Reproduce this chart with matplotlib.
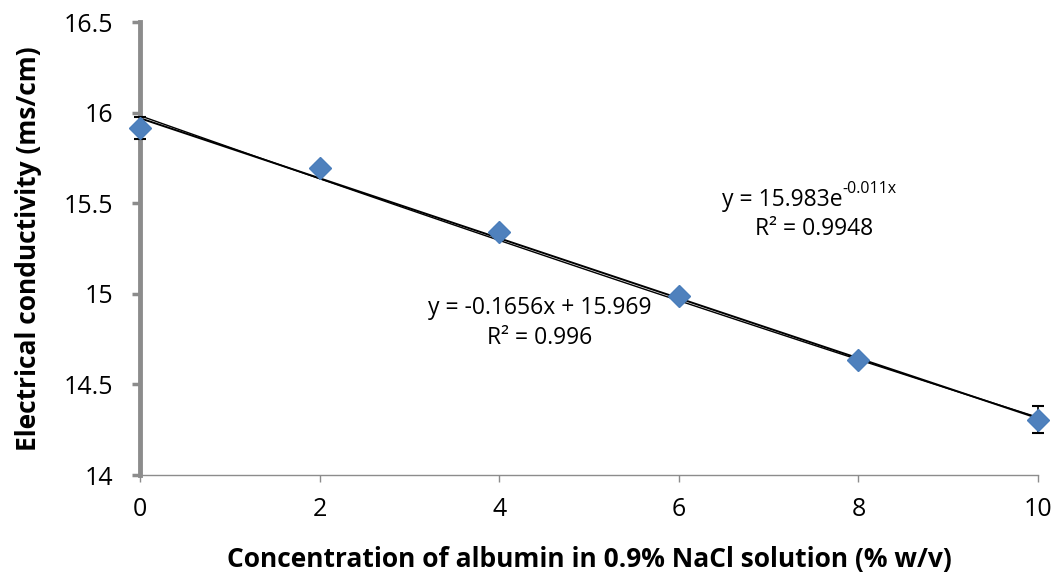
"""
Electrical conductivity of albumin in 0.9% NaCl, with linear and exponential trendlines.
"""
import numpy as np
import matplotlib
matplotlib.use("Agg")
import matplotlib.pyplot as plt

# data
conc = [0, 2, 4, 6, 8, 10]
conductivity = [15.915, 15.694, 15.341, 14.988, 14.635, 14.305]
error = [0.06, 0.02, 0.02, 0.02, 0.02, 0.075]

# trendline coefficients as printed on the chart
lin_slope, lin_icpt = -0.1656, 15.969
exp_a, exp_b = 15.983, -0.011

plt.rcParams["font.family"] = ["Open Sans", "DejaVu Sans"]

fig = plt.figure(figsize=(10.55, 5.76), dpi=100)
ax = fig.add_axes([0.1327, 0.1753, 0.8513, 0.7865])

xs = np.array([0, 10])
ax.plot(xs, lin_slope * xs + lin_icpt, color="black", lw=1.4, zorder=2)
xe = np.linspace(0, 10, 50)
ax.plot(xe, exp_a * np.exp(exp_b * xe), color="black", lw=1.0, zorder=2)

ax.errorbar(conc, conductivity, yerr=error, fmt="none", ecolor="black",
            elinewidth=1.2, capsize=4, capthick=1.5, zorder=3, clip_on=False)
ax.plot(conc, conductivity, linestyle="none", marker="D", markersize=11,
        color="#4F81BD", markeredgecolor="#4A7EBB", zorder=4, clip_on=False)

ax.set_xlim(0, 10)
ax.set_ylim(14, 16.5)
ax.set_xticks(range(0, 11, 2))
ax.set_yticks([14, 14.5, 15, 15.5, 16, 16.5])
ax.set_yticklabels(["14", "14.5", "15", "15.5", "16", "16.5"])

for s in ["top", "right"]:
    ax.spines[s].set_visible(False)
ax.spines["left"].set_color("#8C8C8C")
ax.spines["left"].set_linewidth(3.5)
ax.spines["bottom"].set_color("#8C8C8C")
ax.spines["bottom"].set_linewidth(1.0)
ax.tick_params(axis="y", colors="#8C8C8C", length=6, width=2.5,
               labelcolor="black", labelsize=18, pad=13)
ax.tick_params(axis="x", colors="#8C8C8C", length=5, width=1,
               labelcolor="black", labelsize=18, pad=11)

ax.set_ylabel("Electrical conductivity (ms/cm)", fontsize=19,
              fontweight="bold", labelpad=16)
ax.set_xlabel("Concentration of albumin in 0.9% NaCl solution (% w/v)",
              fontsize=19, fontweight="bold", labelpad=17)

# exponential fit label, superscript drawn as its own text to keep the hyphen
t_exp = ax.text(7.82, 15.52, f"y = {exp_a}e", fontsize=16.5,
                ha="right", va="center")
ax.annotate(f"{exp_b}x", xy=(1.0, 0.6), xycoords=t_exp, fontsize=11.5,
            ha="left", va="bottom")
ax.text(7.5, 15.355, "R² = 0.9948", fontsize=16.5, ha="center", va="center")
ax.text(4.45, 14.92, f"y = {lin_slope}x + {lin_icpt}", fontsize=16.5,
        ha="center", va="center")
ax.text(4.45, 14.755, "R² = 0.996", fontsize=16.5, ha="center", va="center")

fig.savefig("out.png", dpi=100)
